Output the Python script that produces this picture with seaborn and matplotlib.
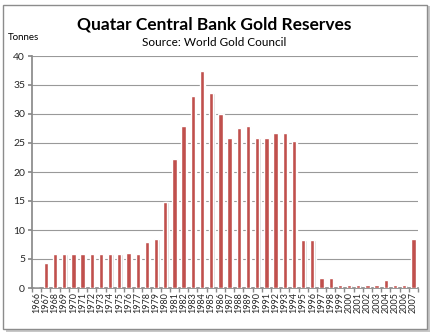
import matplotlib
matplotlib.use("Agg")
import matplotlib.pyplot as plt
import seaborn as sns
import pandas as pd
import numpy as np
from matplotlib.patches import Rectangle

years = [str(y) for y in range(1966, 2008)]
tonnes = [0, 4.3, 5.8, 5.8, 5.8, 5.8, 5.8, 5.8, 5.8, 5.9, 6.1, 5.8, 7.9, 8.4,
          14.8, 22.2, 27.9, 33.1, 37.4, 33.6, 30.0, 25.8, 27.5, 28.0, 25.8, 25.8,
          26.8, 26.8, 25.3, 8.3, 8.3, 1.7, 1.7, 0.6, 0.6, 0.6, 0.6, 0.6, 1.4,
          0.6, 0.6, 8.4]
yticks = [0, 5, 10, 15, 20, 25, 30, 35, 40]

sns.set_theme(style="white")
plt.rcParams['font.family'] = ['Lato', 'DejaVu Sans']

df = pd.DataFrame({"year": years, "tonnes": tonnes})

fig = plt.figure(figsize=(4.3, 3.35), dpi=100)
fig.patch.set_facecolor("white")
# chart frame with shadow
fig.patches.append(Rectangle((6/430, 3/335), 424/430, 326/335, transform=fig.transFigure,
                             facecolor="#c8c8c8", edgecolor="none", zorder=-2))
fig.patches.append(Rectangle((3/430, 6/335), 424/430, 324/335, transform=fig.transFigure,
                             facecolor="white", edgecolor="#8c8c8c", linewidth=1, zorder=-1))

ax = fig.add_axes([32/430, 1-288/335, 386/430, 232/335])
ax.set_zorder(2)
ax.set_facecolor("none")

# shadows
sns.barplot(data=df, x="year", y="tonnes", color="#d6d6d6", width=0.45, ax=ax,
            saturation=1, zorder=2)
for p in ax.patches:
    p.set_x(p.get_x() + 0.15)
sns.barplot(data=df, x="year", y="tonnes", color="#C0504D", width=0.47, ax=ax,
            saturation=1, zorder=3)

ax.set_ylim(0, 40)
ax.set_xlim(-0.5, len(years) - 0.5)
ax.set_yticks(yticks)
ax.set_yticklabels([str(v) for v in yticks], fontsize=7.5)
ax.yaxis.grid(True, color="#999999", linewidth=0.8)
ax.set_axisbelow(True)
ax.set_xticks(range(len(years)))
ax.set_xticklabels(years, rotation=90, fontsize=6.5)
ax.tick_params(axis="x", length=0, pad=3)
ax.tick_params(axis="y", length=3, color="#8a8a8a", left=True, pad=2)
ax.set_xticks(np.arange(-0.5, len(years), 1), minor=True)
ax.tick_params(axis="x", which="minor", length=3, color="#8a8a8a", bottom=True)
for s in ["top", "right"]:
    ax.spines[s].set_visible(False)
ax.spines["left"].set_color("#8a8a8a")
ax.spines["bottom"].set_color("#8a8a8a")
ax.set_xlabel("")
ax.set_ylabel("")

fig.text(214/430, 1-25/335, "Quatar Central Bank Gold Reserves", ha="center", va="center",
         fontsize=12.5, fontweight="bold", color="black")
fig.text(214/430, 1-43/335, "Source: World Gold Council", ha="center", va="center",
         fontsize=8.5, color="black")
fig.text(8/430, 1-38/335, "Tonnes", ha="left", va="center", fontsize=7, color="black")

fig.savefig("out.png", dpi=100)
